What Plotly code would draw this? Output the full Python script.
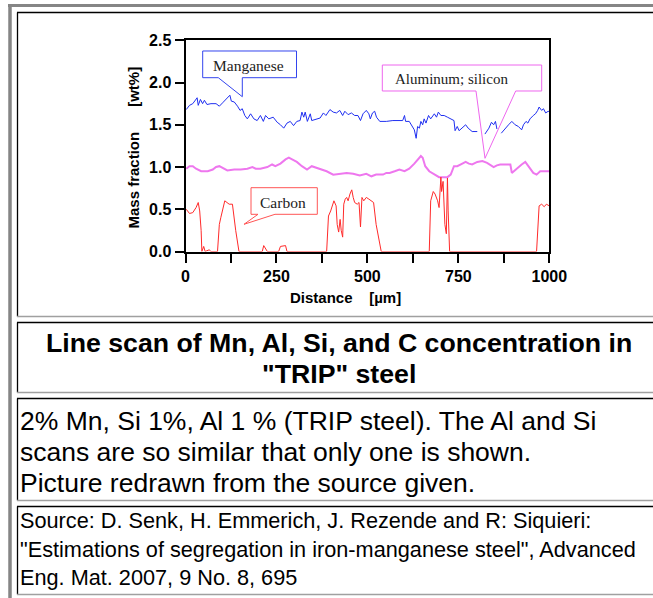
import plotly.graph_objects as go

W, H = 653, 598

# ---------------- data ----------------
mn_x = [2, 11, 20, 26, 32, 35, 41, 47, 52, 59, 70, 84, 93, 102, 111, 117, 122, 126, 134, 143,
        150, 156, 163, 170, 179, 188, 197, 206, 214, 220, 229, 241, 252, 261, 270, 279, 288, 297, 306, 315,
        320, 325, 329, 335, 343, 347, 361, 370, 379, 386, 397, 406, 415, 424, 432, 438, 447, 456, 465, 474,
        481, 488, 497, 504, 508, 514, 520, 525, 534, 552, 570, 597, 602, 605, 615, 623, 629, 634, 638, 643,
        647, 652, 656, 661, 668, 674, 684, 690, 695, 702, 711, 720, 729, 738, 741, 747, 752, 761, 770, 777,
        788, 802, 812, 823, 834, 841, 847, 852, 856, 862, 868, 879, 888, 897, 906, 915, 924, 929, 936, 941,
        947, 956, 962, 968, 972, 979, 984, 990, 997, 1000]
mn_y = [1.68, 1.73, 1.75, 1.79, 1.82, 1.73, 1.80, 1.75, 1.79, 1.74, 1.75, 1.75, 1.72, 1.76, 1.80, 1.83, 1.85, 1.78, 1.77, 1.72,
        1.67, 1.69, 1.61, 1.57, 1.63, 1.57, 1.55, 1.61, 1.54, 1.61, 1.57, 1.59, 1.53, 1.50, 1.46, 1.52, 1.54, 1.49, 1.54, 1.55,
        1.65, 1.59, 1.65, 1.54, 1.63, 1.55, 1.57, 1.58, 1.64, 1.61, 1.68, 1.65, 1.64, 1.67, 1.61, 1.66, 1.62, 1.64, 1.61, 1.61,
        1.55, 1.63, 1.67, 1.63, 1.57, 1.64, 1.66, 1.59, 1.54, 1.54, 1.55, 1.55, 1.61, 1.54, 1.54, 1.48, 1.44, 1.34, 1.48, 1.46,
        1.54, 1.50, 1.57, 1.52, 1.61, 1.57, 1.63, 1.59, 1.65, 1.61, 1.61, 1.59, 1.57, 1.55, 1.43, 1.48, 1.43, 1.46, 1.50, 1.46,
        1.42, 1.42, None, 1.39, 1.46, 1.53, 1.50, 1.54, 1.45, None, 1.40, 1.46, 1.50, 1.54, 1.50, 1.48, 1.44, 1.50, 1.54, 1.52,
        1.57, 1.61, 1.63, 1.67, 1.71, 1.67, 1.69, 1.64, 1.66, 1.65]

al_x = [2, 11, 20, 29, 43, 61, 75, 84, 93, 102, 115, 134, 152, 170, 184, 193, 206, 225, 238, 247,
        261, 275, 284, 293, 306, 320, 334, 347, 361, 375, 388, 406, 424, 443, 461, 479, 497, 511, 524, 543,
        552, 561, 575, 588, 602, 615, 629, 643, 647, 652, 659, 670, 684, 697, 720, 729, 738, 747, 761, 770,
        779, 788, 802, 816, 829, 838, 847, 856, 865, 879, 893, 897, 902, 911, 924, 934, 943, 956, 965, 975,
        988, 1000]
al_y = [0.98, 1.01, 1.01, 0.98, 0.95, 0.95, 0.97, 1.00, 1.01, 0.99, 0.96, 0.97, 0.97, 0.98, 1.00, 0.98, 0.98, 1.00, 1.03, 1.01,
        1.04, 1.09, 1.11, 1.09, 1.06, 1.01, 0.97, 1.01, 0.99, 0.97, 0.95, 0.91, 0.92, 0.93, 0.92, 0.90, 0.92, 0.89, 0.91, 0.91,
        0.93, 0.93, 0.95, 0.97, 0.95, 0.98, 1.04, 1.11, 1.13, 1.11, 1.01, 0.95, 0.91, 0.88, 0.88, 0.91, 1.01, 1.01, 1.04, 1.06,
        1.04, 1.03, 1.06, 1.07, 1.05, 1.03, 1.00, 1.02, 1.03, 1.03, 1.03, 0.93, 0.95, 0.99, 1.03, 1.06, 1.01, 0.93, 0.91, 0.95,
        0.95, 0.95]

c_x = [2, 11, 20, 29, 35, 39, 43, 45, 50, 54, 65, 70, 88, 93, 97, 102, 108, 114, 120, 129,
       134, 138, 147, 211, 215, 220, 225, 256, 261, 275, 279, 388, 393, 399, 405, 408, 414, 417, 421, 425,
       428, 432, 435, 439, 443, 447, 452, 457, 461, 465, 472, 477, 481, 485, 490, 497, 504, 511, 517, 524,
       538, 670, 674, 681, 686, 693, 697, 702, 704, 708, 711, 713, 717, 720, 722, 726, 965, 970, 972, 979,
       986, 992, 1000]
c_y = [0.50, 0.45, 0.46, 0.52, 0.58, 0.48, 0.25, 0, 0.06, 0, 0.02, 0, 0, 0.32, 0.40, 0.50, 0.60, 0.58, 0.56, 0.56,
       0.36, 0.25, 0, 0, 0.07, 0.03, 0, 0, 0.06, 0.07, 0, 0, 0.42, 0.48, 0.56, 0.60, 0.54, 0.32, 0.23, 0.38,
       0.25, 0.17, 0.56, 0.62, 0.64, 0.60, 0.68, 0.73, 0.64, 0.58, 0.56, 0.58, 0.29, 0.64, 0.60, 0.64, 0.62, 0.60, 0.58, 0.32,
       0, 0, 0.60, 0.71, 0.68, 0.60, 0.52, 0.88, 0.71, 0.83, 0.40, 0.32, 0.21, 0.87, 0.48, 0, 0, 0.32, 0.54, 0.56,
       0.53, 0.56, 0.54]

x_tick_vals = [0, 125, 250, 375, 500, 625, 750, 875, 1000]
x_tick_text = ["0", "", "250", "", "500", "", "750", "", "1000"]
y_tick_vals = [0, 0.5, 1.0, 1.5, 2.0, 2.5]
y_tick_text = ["0.0", "0.5", "1.0", "1.5", "2.0", "2.5"]

x_title = "Distance\u00a0\u00a0\u00a0\u00a0[µm]"
y_title = "Mass fraction\u00a0\u00a0\u00a0\u00a0\u00a0\u00a0[wt%]"
label_mn = "Manganese"
label_al = "Aluminum; silicon"
label_c = "Carbon"

title_lines = ["Line scan of Mn, Al, Si, and C concentration in", "\"TRIP\" steel"]
desc_lines = ["2% Mn, Si 1%, Al 1 % (TRIP steel). The Al and Si",
              "scans are so similar that only one is shown.",
              "Picture redrawn from the source given."]
source_lines = ["Source: D. Senk, H. Emmerich, J. Rezende and R: Siquieri:",
                "\"Estimations of segregation in iron-manganese steel\", Advanced",
                "Eng. Mat. 2007, 9 No. 8, 695"]


# ---------------- helpers: pixel -> paper ----------------
def px(x):
    return x / W


def py(y):
    return 1 - y / H


SANS = "Arial, Liberation Sans, sans-serif"
SERIF = "Times New Roman, Liberation Serif, serif"

fig = go.Figure()
fig.add_trace(go.Scatter(x=mn_x, y=mn_y, mode="lines", line=dict(color="#1f2ff0", width=1),
                         connectgaps=False, showlegend=False))
fig.add_trace(go.Scatter(x=al_x, y=al_y, mode="lines", line=dict(color="#ee77ee", width=2),
                         showlegend=False))
fig.add_trace(go.Scatter(x=c_x, y=c_y, mode="lines", line=dict(color="#ff2a2a", width=1),
                         showlegend=False))

shapes = []


def hline(y, x0, x1, color, w=1):
    shapes.append(dict(type="line", xref="paper", yref="paper", x0=px(x0), x1=px(x1), y0=py(y), y1=py(y),
                       line=dict(color=color, width=w)))


def vline(x, y0, y1, color, w=1):
    shapes.append(dict(type="line", xref="paper", yref="paper", x0=px(x), x1=px(x), y0=py(y0), y1=py(y1),
                       line=dict(color=color, width=w)))


# outer table border (gray, outset)
vline(10, 4, 598, "#858585", 3.5)
hline(5.5, 8, 653, "#858585", 3)
# cells: top/left dark, bottom light
cells = [(12.5, 316.5), (322.5, 392.5), (398.5, 500.5), (506.5, 594.5)]
for top, bot in cells:
    hline(top, 17, 653, "#000000", 1.3)
    vline(17.5, top, bot, "#000000", 1.3)
    hline(bot, 17, 653, "#a0a0a0", 1.3)


def callout(pts, color):
    d = "M " + " L ".join(f"{px(a):.5f},{py(b):.5f}" for a, b in pts) + " Z"
    shapes.append(dict(type="path", xref="paper", yref="paper", path=d,
                       line=dict(color=color, width=1), fillcolor="rgba(0,0,0,0)", layer="above"))


callout([(202.7, 51), (296.5, 51), (296.5, 77.7), (242.3, 77.7), (242.3, 96.7), (218.3, 77.7), (202.7, 77.7)],
        "#3344ee")
callout([(382.3, 65), (541.7, 65), (541.7, 91), (515.7, 91), (485, 158.3), (476, 91), (382.3, 91)],
        "#ee66ee")
callout([(251, 187.7), (317.3, 187.7), (317.3, 214.3), (275, 214.3), (244, 224.3), (258, 214.3), (251, 214.3)],
        "#ff5555")

ann = []


def text(x, y, s, size, bold=False, xanchor="left", family=SANS, color="#000000", angle=0):
    ann.append(dict(x=px(x), y=py(y), xref="paper", yref="paper", text=s, showarrow=False,
                    xanchor=xanchor, yanchor="middle", textangle=angle,
                    font=dict(family=family, size=size, color=color, weight="bold" if bold else "normal")))


# callout labels
text(248, 65, label_mn, 15.5, family=SERIF, xanchor="center", color="#222222")
text(451, 79, label_al, 15, family=SERIF, xanchor="center", color="#222222")
text(283, 202, label_c, 15.5, family=SERIF, xanchor="center", color="#222222")

# axis titles
text(345.6, 297.5, x_title, 15, bold=True, xanchor="center")
text(132.5, 148, y_title, 15, bold=True, xanchor="center", angle=-90)

# caption cells
for i, s in enumerate(title_lines):
    text(338.5, 343 + 31 * i, s, 26.7, bold=True, xanchor="center")
for i, s in enumerate(desc_lines):
    text(18, 421 + 31 * i, s, 26.5)
for i, s in enumerate(source_lines):
    text(18, 520.5 + 28.5 * i, s, 21.7)

axis_common = dict(showgrid=False, zeroline=False, showline=True, linecolor="#000000", linewidth=2,
                   mirror=True, ticks="outside", ticklen=9, tickwidth=2, tickcolor="#000000",
                   tickfont=dict(family=SANS, size=16, color="#000000", weight="bold"), automargin=False)

fig.update_layout(
    width=W, height=H,
    margin=dict(l=0, r=0, t=0, b=0),
    paper_bgcolor="#ffffff", plot_bgcolor="#ffffff",
    xaxis=dict(range=[0, 1000], domain=[185.5 / W, 549.3 / W], tickmode="array",
               tickvals=x_tick_vals, ticktext=x_tick_text, **axis_common),
    yaxis=dict(range=[0, 2.5], domain=[1 - 251.5 / H, 1 - 40.3 / H], tickmode="array",
               tickvals=y_tick_vals, ticktext=y_tick_text, **axis_common),
    shapes=shapes,
    annotations=ann,
    showlegend=False,
)

fig.write_html("out.html", config={"displayModeBar": False},
               post_script="document.body.style.margin='0';document.body.style.overflow='hidden';")
